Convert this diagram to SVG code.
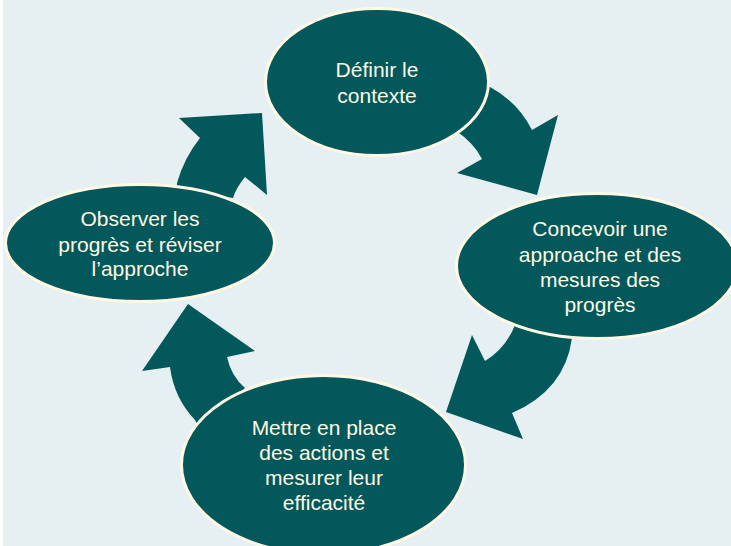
<svg xmlns="http://www.w3.org/2000/svg" width="731" height="546" viewBox="0 0 731 546">
<style>
.arrow{fill:#03585B;stroke:none}
.node{fill:#03585B;stroke:#FFF9E3;stroke-width:3}
.lbl{font-family:"Liberation Sans",Arial,sans-serif;font-size:21px;fill:#FFF9E3;text-anchor:middle}
</style>
<rect x="0" y="0" width="731" height="546" fill="#FFFFFF"/>
<rect x="3" y="0" width="728" height="546" fill="#E6EFF2"/>
<g id="connectors">
<path class="arrow" d="M470,80 L490,87 Q518,102 532,130 L558,115 L537,195 L457,173 L482,159 Q474,143 455,130 Z"/>
<path class="arrow" d="M572,330 L572,338 Q565,390 512,413 L523,439 L446,412 L472,335 L485,361 Q506,348 515,325 Z"/>
<path class="arrow" d="M200,430 L195,420 Q174,398 170,367 L142,371 L188,304 L255,351 L227,357 Q231,376 245,388 Z"/>
<path class="arrow" d="M177,190 L177,183 Q184,158 200,138 L179,118 L262,113 L267,195 L245,177 Q236,188 233,198 Z"/>
</g>
<g id="n1">
<ellipse class="node" cx="377" cy="82" rx="111.5" ry="73.5"/>
<text class="lbl" x="377" y="77">Définir le</text>
<text class="lbl" x="377" y="103">contexte</text>
</g>
<g id="n2">
<ellipse class="node" cx="597" cy="266" rx="140.5" ry="72.5"/>
<text class="lbl" x="600" y="236">Concevoir une</text>
<text class="lbl" x="600" y="262">approache et des</text>
<text class="lbl" x="600" y="287">mesures des</text>
<text class="lbl" x="600" y="312">progrès</text>
</g>
<g id="n3">
<ellipse class="node" cx="323.5" cy="465" rx="142" ry="89.5"/>
<text class="lbl" x="324" y="435">Mettre en place</text>
<text class="lbl" x="324" y="460">des actions et</text>
<text class="lbl" x="324" y="485">mesurer leur</text>
<text class="lbl" x="324" y="510">efficacité</text>
</g>
<g id="n4">
<ellipse class="node" cx="140" cy="243" rx="134.5" ry="58.5"/>
<text class="lbl" x="140" y="226">Observer les</text>
<text class="lbl" x="140" y="252">progrès et réviser</text>
<text class="lbl" x="140" y="276">l’approche</text>
</g>
</svg>
